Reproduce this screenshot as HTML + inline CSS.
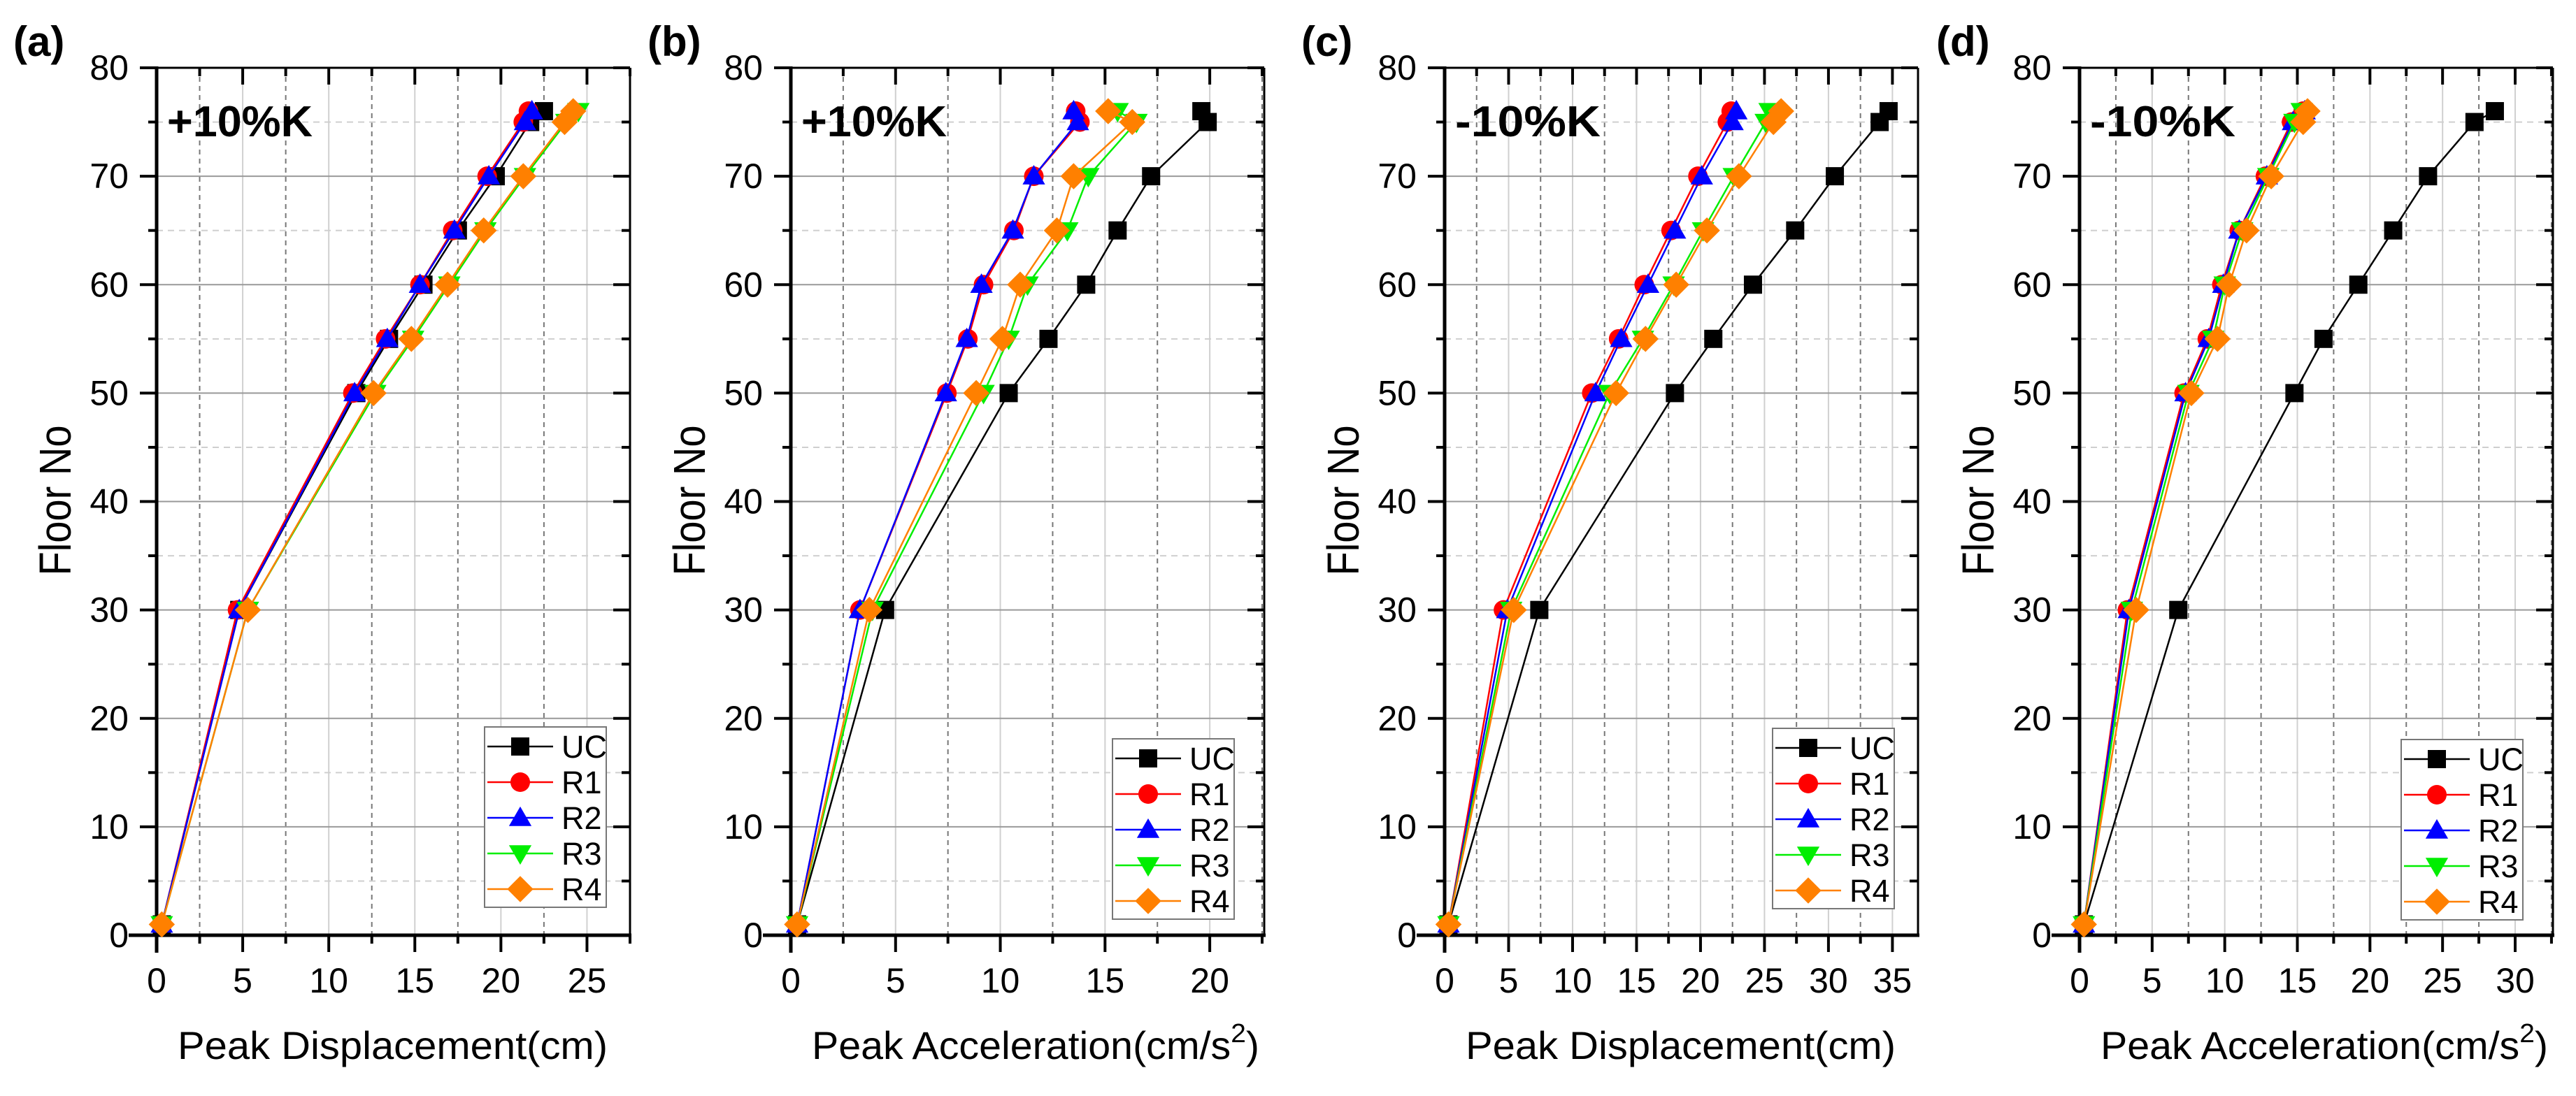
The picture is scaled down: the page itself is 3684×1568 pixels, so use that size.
<!DOCTYPE html>
<html><head><meta charset="utf-8">
<style>
html,body{margin:0;padding:0;background:#fff;}
svg{display:block;}
text{font-family:"Liberation Sans",sans-serif;}
</style></head>
<body>
<svg id="fig" width="3684" height="1568" viewBox="0 0 3684 1568" xmlns="http://www.w3.org/2000/svg"></svg>
<script>
// ---- data ----
const floors = [1,30,50,55,60,65,70,75,76];
const seriesNames = ["UC","R1","R2","R3","R4"];
// panel (a) +10%K displacement
const aUC = [0.3,4.8,11.6,13.5,15.5,17.5,19.7,21.7,22.5];
const aR1 = [0.3,4.7,11.4,13.3,15.3,17.2,19.2,21.3,21.6];
const aR2 = [0.3,4.8,11.5,13.4,15.3,17.3,19.3,21.4,21.8];
const aR3 = [0.3,5.3,12.7,14.9,17.0,19.1,21.4,23.8,24.5];
const aR4 = [0.3,5.3,12.6,14.8,16.9,19.0,21.3,23.7,24.2];
// panel (b) +10%K acceleration
const bUC = [0.3,4.5,10.4,12.3,14.1,15.6,17.2,19.9,19.6];
const bR1 = [0.3,3.3,7.45,8.45,9.2,10.65,11.6,13.8,13.6];
const bR2 = [0.3,3.3,7.4,8.4,9.1,10.6,11.6,13.7,13.5];
const bR3 = [0.3,3.9,9.2,10.4,11.3,13.2,14.2,16.5,15.6];
const bR4 = [0.3,3.75,8.85,10.1,10.95,12.7,13.5,16.3,15.15];
// panel (c) -10%K displacement
const cUC = [0.3,7.4,18.0,21.0,24.1,27.4,30.5,34.0,34.7];
const cR1 = [0.3,4.6,11.5,13.6,15.6,17.7,19.8,22.1,22.4];
const cR2 = [0.3,4.9,11.8,13.8,15.9,18.0,20.1,22.5,22.8];
const cR3 = [0.3,5.2,12.9,15.5,17.9,20.2,22.6,25.1,25.4];
const cR4 = [0.3,5.4,13.4,15.7,18.1,20.5,23.0,25.7,26.3];
// panel (d) -10%K acceleration
const dUC = [0.3,6.8,14.8,16.8,19.2,21.6,24.0,27.2,28.6];
const dR1 = [0.3,3.3,7.2,8.8,9.8,11.0,12.8,14.6,15.4];
const dR2 = [0.3,3.4,7.3,8.9,9.9,11.0,12.9,14.7,15.5];
const dR3 = [0.3,3.6,7.5,9.2,10.0,11.2,13.0,14.8,15.3];
const dR4 = [0.3,3.9,7.7,9.5,10.3,11.5,13.2,15.4,15.7];
const yTicks = [0,10,20,30,40,50,60,70,80];
const aTicks = [0,5,10,15,20,25];
const bTicks = [0,5,10,15,20];
const cTicks = [0,5,10,15,20,25,30,35];
const dTicks = [0,5,10,15,20,25,30];

const colors = ["#000000","#ff0000","#0000ff","#00ee00","#ff8000"];
const NS = "http://www.w3.org/2000/svg";
const svg = document.getElementById("fig");
function el(tag, attrs, parent, txt){
  const e = document.createElementNS(NS, tag);
  for (const k in attrs) e.setAttribute(k, attrs[k]);
  if (txt !== undefined) e.textContent = txt;
  (parent || svg).appendChild(e);
  return e;
}
function marker(g, i, cx, cy, s){
  const c = colors[i]; let m;
  if (i===0) m = el("rect",{x:cx-s/2,y:cy-s/2,width:s,height:s,fill:c},g);
  else if (i===1) m = el("circle",{cx:cx,cy:cy,r:s/2+1,fill:c},g);
  else if (i===2) m = el("polygon",{points:`${cx},${cy-s*0.62} ${cx-s*0.62},${cy+s*0.45} ${cx+s*0.62},${cy+s*0.45}`,fill:c},g);
  else if (i===3) m = el("polygon",{points:`${cx},${cy+s*0.62} ${cx-s*0.62},${cy-s*0.45} ${cx+s*0.62},${cy-s*0.45}`,fill:c},g);
  else m = el("polygon",{points:`${cx},${cy-s*0.72} ${cx+s*0.72},${cy} ${cx},${cy+s*0.72} ${cx-s*0.72},${cy}`,fill:c},g);
  return m;
}
const panels = [
  {id:"a",left:224,xmax:27.5,ticks:aTicks,series:[aUC,aR1,aR2,aR3,aR4],note:"+10%K",xt:"Peak Displacement(cm)",sup:false,legX:469,legY:1040},
  {id:"b",left:1131,xmax:22.6,ticks:bTicks,series:[bUC,bR1,bR2,bR3,bR4],note:"+10%K",xt:"Peak Acceleration(cm/s",sup:true,legX:460,legY:1057},
  {id:"c",left:2066,xmax:37,ticks:cTicks,series:[cUC,cR1,cR2,cR3,cR4],note:"-10%K",xt:"Peak Displacement(cm)",sup:false,legX:469,legY:1042},
  {id:"d",left:2974,xmax:32.6,ticks:dTicks,series:[dUC,dR1,dR2,dR3,dR4],note:"-10%K",xt:"Peak Acceleration(cm/s",sup:true,legX:460,legY:1058}
];
const TOP=97, BOT=1338, W=677;
panels.forEach(p=>{
  const g = el("g",{});
  
  
  const L=p.left, R=p.left+W;
  const xs = v => L + v/p.xmax*W;
  const ys = v => BOT - v/80*(BOT-TOP);
  // grid
  const grid = el("g",{},g);
  
  
  for (let v=2.5; v<p.xmax; v+=2.5){
    const major = Math.abs(v/5-Math.round(v/5))<1e-6;
    el("line",{x1:xs(v),x2:xs(v),y1:TOP,y2:BOT,stroke:major?"#d0d0d0":"#777","stroke-width":major?2:2,"stroke-dasharray":major?"none":"7 6"},grid);
  }
  for (let v=5; v<80; v+=5){
    const major = v%10===0;
    el("line",{x1:L,x2:R,y1:ys(v),y2:ys(v),stroke:major?"#999":"#cfcfcf","stroke-width":2,"stroke-dasharray":major?"none":"9 7"},grid);
  }
  // frame
  el("line",{x1:L,x2:R,y1:TOP,y2:TOP,stroke:"#000","stroke-width":3},g);
  el("line",{x1:R,x2:R,y1:TOP,y2:BOT,stroke:"#000","stroke-width":3},g);
  el("line",{x1:L,x2:L,y1:TOP-2,y2:BOT+25,stroke:"#000","stroke-width":5},g);
  el("line",{x1:L-40,x2:R+2,y1:BOT,y2:BOT,stroke:"#000","stroke-width":5},g);
  // y ticks
  for (let v=0; v<=80; v+=5){
    const major = v%10===0, len = major?24:12;
    el("line",{x1:L-len,x2:L,y1:ys(v),y2:ys(v),stroke:"#000","stroke-width":4},g);
    el("line",{x1:R-len,x2:R,y1:ys(v),y2:ys(v),stroke:"#000","stroke-width":4},g);
  }
  yTicks.forEach(v=>{
    const t = el("text",{x:L-40,y:ys(v)+17,"text-anchor":"end","font-size":50},g,String(v));
    
    
  });
  // x ticks
  for (let v=0; v<=p.xmax+1e-6; v+=2.5){
    const major = Math.abs(v/5-Math.round(v/5))<1e-6, len = major?24:12;
    el("line",{x1:xs(v),x2:xs(v),y1:BOT,y2:BOT+len,stroke:"#000","stroke-width":4},g);
    el("line",{x1:xs(v),x2:xs(v),y1:TOP,y2:TOP+len,stroke:"#000","stroke-width":4},g);
  }
  p.ticks.forEach(v=>{
    const t = el("text",{x:xs(v),y:1420,"text-anchor":"middle","font-size":50},g,String(v));
    
    
  });
  // series
  p.series.forEach((arr,i)=>{
    const sg = el("g",{},g);
    
    
    const pts = arr.map((v,k)=>xs(v)+","+ys(floors[k])).join(" ");
    el("polyline",{points:pts,fill:"none",stroke:colors[i],"stroke-width":2.5},sg);
    arr.forEach((v,k)=>{
      const m = marker(sg,i,xs(v),ys(floors[k]),26);
      
      
    });
  });
  // legend
  const lg = el("g",{},g);
  
  
  const lx = L+p.legX, ly = p.legY;
  el("rect",{x:lx,y:ly,width:174,height:258,fill:"#fff",stroke:"#777","stroke-width":2},lg);
  seriesNames.forEach((n,i)=>{
    const cy = ly+28+i*51;
    const e = el("g",{},lg);
    
    
    el("line",{x1:lx+4,x2:lx+98,y1:cy,y2:cy,stroke:colors[i],"stroke-width":2.5},e);
    marker(e,i,lx+51,cy,26);
    el("text",{x:lx+110,y:cy+16,"font-size":45},e,n);
  });
  // annotations
  const nt = el("text",{x:L+15,y:195,"font-size":62,"font-weight":"bold",textLength:208,lengthAdjust:"spacingAndGlyphs"},g,p.note);
  
  
  const pl = el("text",{x:L-205,y:80,"font-size":60,"font-weight":"bold"},g,"("+p.id+")");
  
  
  const yt = el("text",{x:0,y:0,"font-size":64,"text-anchor":"middle",transform:`translate(${L-123},716) rotate(-90)`,textLength:215,lengthAdjust:"spacingAndGlyphs"},g,"Floor No");
  
  
  const xt = el("text",{x:L+30,y:1515,"font-size":56},g);
  
  
  if (p.sup){
    el("tspan",{},xt,p.xt);
    el("tspan",{dy:-24,"font-size":38},xt,"2");
    el("tspan",{dy:24},xt,")");
    xt.setAttribute("textLength",640); xt.setAttribute("lengthAdjust","spacingAndGlyphs");
  } else {
    xt.textContent = p.xt;
    xt.setAttribute("textLength",615); xt.setAttribute("lengthAdjust","spacingAndGlyphs");
  }
});
</script>
</body></html>
